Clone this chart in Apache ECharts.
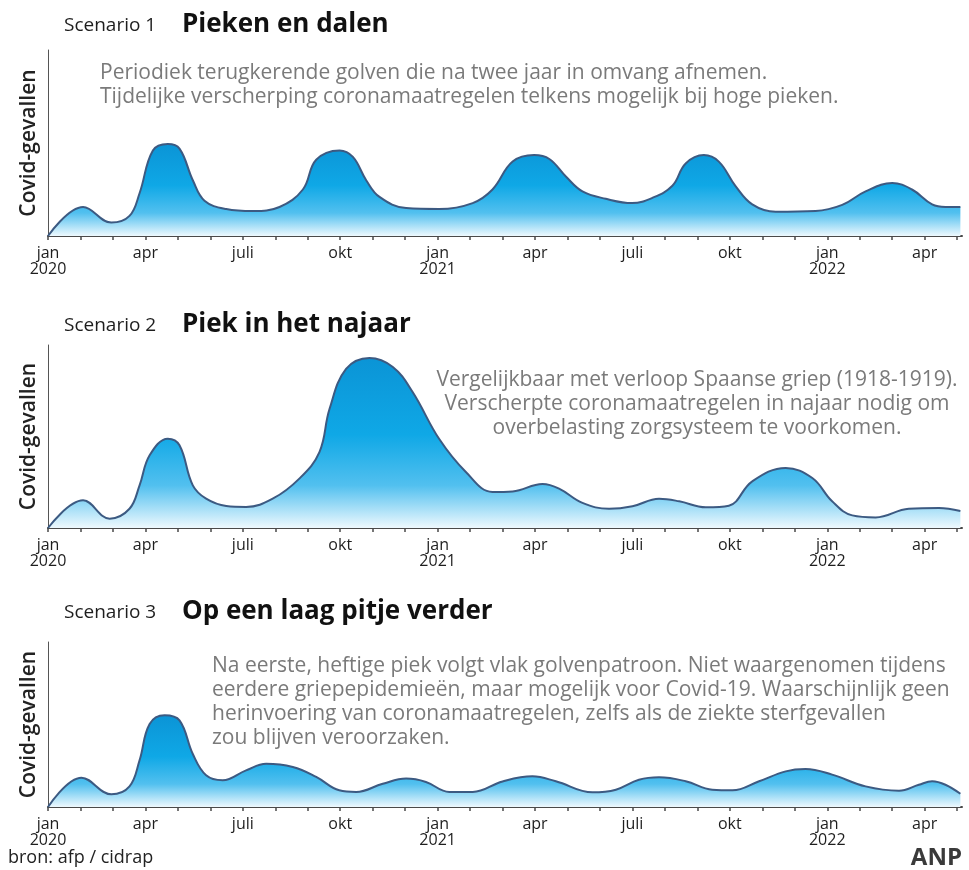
<!DOCTYPE html>
<html><head><meta charset="utf-8">
<script src="https://cdn.jsdelivr.net/npm/echarts@6/dist/echarts.min.js"></script>
<style>html,body{margin:0;padding:0;background:#fff}#c{width:969px;height:870px}</style>
</head><body><div id="c"></div>
<script>
// month index (0 = jan 2020) and relative Covid cases (0-100 scale of each panel)
const months1 = [0,1.08,1.95,2.51,2.82,3.23,3.69,4.05,4.46,4.82,5.49,6.31,7.13,7.85,8.26,8.98,9.39,9.8,10.21,11.03,12.05,13.08,13.69,14.31,14.97,15.44,15.95,16.46,17.18,17.99,18.6,19.23,19.64,20.2,20.66,21.17,21.69,22.41,23.64,24.46,25.18,26.0,26.61,27.23,27.64,28.1];
const cases1  = [0,15.6,7.2,10.8,23,46,49.5,47,30,19,14.5,13.4,15.6,25,41,46,42.5,30,21,15,14.5,17.7,25,40,43.5,41.4,32,24,20,17.7,20.4,27,39,43.5,40,27,17,13,13.4,16.7,24,28.5,25,17,15.6,15.6];

const months2 = [0,1.08,1.9,2.51,2.82,3.13,3.69,4.05,4.46,4.87,5.49,6.1,6.92,7.74,8.36,8.67,9.18,9.9,10.62,11.23,12.05,12.87,13.69,14.31,15.23,15.74,16.46,17.28,18.0,18.82,19.44,20.26,20.97,21.69,22.72,23.54,24.15,24.77,25.49,26.51,27.44,28.1];
const cases2  = [0,15.1,5.1,10.5,23.3,39.7,48.8,45.2,23.3,16,12,11.5,16,27,41.5,65,86.9,92.9,88,74.3,48.6,30.6,19.7,20,24,21.5,13.7,10.5,11.9,16,14.6,11.3,12.2,25.5,32.8,27.3,14.6,6.9,5.8,10.5,10.9,9.3];

const months3 = [0,1.03,1.95,2.51,2.82,3.13,3.59,4.05,4.46,4.87,5.38,6.1,6.72,7.54,8.26,8.97,9.49,10.31,11.03,11.64,12.36,13.08,14.0,14.92,15.64,16.77,17.49,18.2,18.82,19.64,20.46,21.08,21.9,22.72,23.33,24.15,25.18,26.21,26.82,27.23,27.64,28.1];
const cases3  = [0,17.8,7.7,12.5,28.3,50.3,55.6,52.5,32.1,19.2,16.2,22.2,26.2,24.2,18.2,10.1,9.1,14.1,17.2,15.2,9.1,9.1,15.5,18.6,15.6,8.9,10.5,16.5,18,15.6,10.5,10.1,15.6,21.6,23,19.6,12.5,9.9,13.5,15.6,13.5,8];

const monthNames = ['jan','feb','mrt','apr','mei','juni','juli','aug','sep','okt','nov','dec'];
const startYear = 2020;
const tickMonths = Array.from({length: 29}, (_, i) => i);
const labelMonths = tickMonths.filter(m => m % 3 === 0);

const titles = [
  ['Scenario 1', 'Pieken en dalen'],
  ['Scenario 2', 'Piek in het najaar'],
  ['Scenario 3', 'Op een laag pitje verder']
];
const notes = [
  ['Periodiek terugkerende golven die na twee jaar in omvang afnemen.',
   'Tijdelijke verscherping coronamaatregelen telkens mogelijk bij hoge pieken.'],
  ['Vergelijkbaar met verloop Spaanse griep (1918-1919).',
   'Verscherpte coronamaatregelen in najaar nodig om',
   'overbelasting zorgsysteem te voorkomen.'],
  ['Na eerste, heftige piek volgt vlak golvenpatroon. Niet waargenomen tijdens',
   'eerdere griepepidemieën, maar mogelijk voor Covid-19. Waarschijnlijk geen',
   'herinvoering van coronamaatregelen, zelfs als de ziekte sterfgevallen',
   'zou blijven veroorzaken.']
];
const yName = 'Covid-gevallen';
const source = 'bron: afp / cidrap';
const brand = 'ANP';

const FONT = '"Open Sans", "Noto Sans", sans-serif';
const chart = echarts.init(document.getElementById('c'), null, {renderer: 'canvas'});

const grids = [
  {left: 48, right: 7, top: 50, height: 186},
  {left: 48, right: 7, top: 345, height: 183},
  {left: 48, right: 7, top: 642, height: 165}
];
const xMax = 28.15;

function fmtLabel(v) {
  const m = Math.round(v);
  const name = monthNames[m % 12];
  if (m % 12 === 0) return name + '\n' + (startYear + m / 12);
  return name;
}

const xAxes = grids.map((g, i) => ({
  type: 'value', gridIndex: i, min: 0, max: xMax, interval: 1,
  splitLine: {show: false},
  axisLine: {show: true, lineStyle: {color: '#4a4a4a', width: 2}},
  axisTick: {show: true, length: 4, customValues: tickMonths, lineStyle: {color: '#4a4a4a', width: 1.5}},
  axisLabel: {show: true, customValues: labelMonths, formatter: fmtLabel, color: '#1e1e1e',
              fontFamily: FONT, fontSize: 16, lineHeight: 16, margin: 9}
}));
const yAxes = grids.map((g, i) => ({
  type: 'value', gridIndex: i, min: 0, max: 100,
  name: yName, nameLocation: 'middle', nameGap: 8, nameRotate: 90,
  nameTextStyle: {fontFamily: FONT, fontSize: 21, color: '#222', fontWeight: 600},
  splitLine: {show: false},
  axisLine: {show: true, lineStyle: {color: '#555', width: 1}},
  axisTick: {show: false}, axisLabel: {show: false}
}));

function grad() {
  return new echarts.graphic.LinearGradient(0, 0, 0, 1, [
    {offset: 0, color: '#0b94d6'},
    {offset: 0.45, color: '#0fa8e6'},
    {offset: 0.75, color: '#52c0ef'},
    {offset: 1, color: '#eef9fe'}
  ]);
}
const dataSets = [[months1, cases1], [months2, cases2], [months3, cases3]];
const series = dataSets.map((d, i) => ({
  type: 'line', xAxisIndex: i, yAxisIndex: i,
  data: d[0].map((m, k) => [m, d[1][k]]),
  smooth: 0.4, symbol: 'none',
  lineStyle: {color: '#3c5a82', width: 2},
  areaStyle: {color: grad(), opacity: 1},
  silent: true
}));

const titleY = [25, 325, 612];
const graphics = [];
titles.forEach((t, i) => {
  graphics.push({type: 'text', x: 64, y: titleY[i] + 10,
    style: {text: t[0], font: '19px ' + FONT, fill: '#1e1e1e', verticalAlign: 'bottom'}});
  graphics.push({type: 'text', x: 182, y: titleY[i] + 13,
    style: {text: t[1], font: 'bold 26px ' + FONT, fill: '#111', verticalAlign: 'bottom'}});
});
const NOTE_FONT = '21px ' + FONT;
notes[0].forEach((line, k) => graphics.push({type: 'text', x: 100, y: 73 + k * 24,
  style: {text: line, font: NOTE_FONT, fill: '#7a7a7a', verticalAlign: 'middle'}}));
notes[1].forEach((line, k) => graphics.push({type: 'text', x: 697, y: 380 + k * 24,
  style: {text: line, font: NOTE_FONT, fill: '#7a7a7a', verticalAlign: 'middle', align: 'center'}}));
notes[2].forEach((line, k) => graphics.push({type: 'text', x: 212, y: 666 + k * 24,
  style: {text: line, font: NOTE_FONT, fill: '#7a7a7a', verticalAlign: 'middle'}}));
graphics.push({type: 'text', x: 8, y: 858,
  style: {text: source, font: '18px ' + FONT, fill: '#222', verticalAlign: 'middle'}});
graphics.push({type: 'text', x: 962, y: 858,
  style: {text: brand, font: 'bold 24px ' + FONT, fill: '#3a3a3a', verticalAlign: 'middle', align: 'right'}});

chart.setOption({
  animation: false,
  backgroundColor: '#fff',
  grid: grids,
  xAxis: xAxes,
  yAxis: yAxes,
  series: series,
  graphic: graphics
});
</script></body></html>
